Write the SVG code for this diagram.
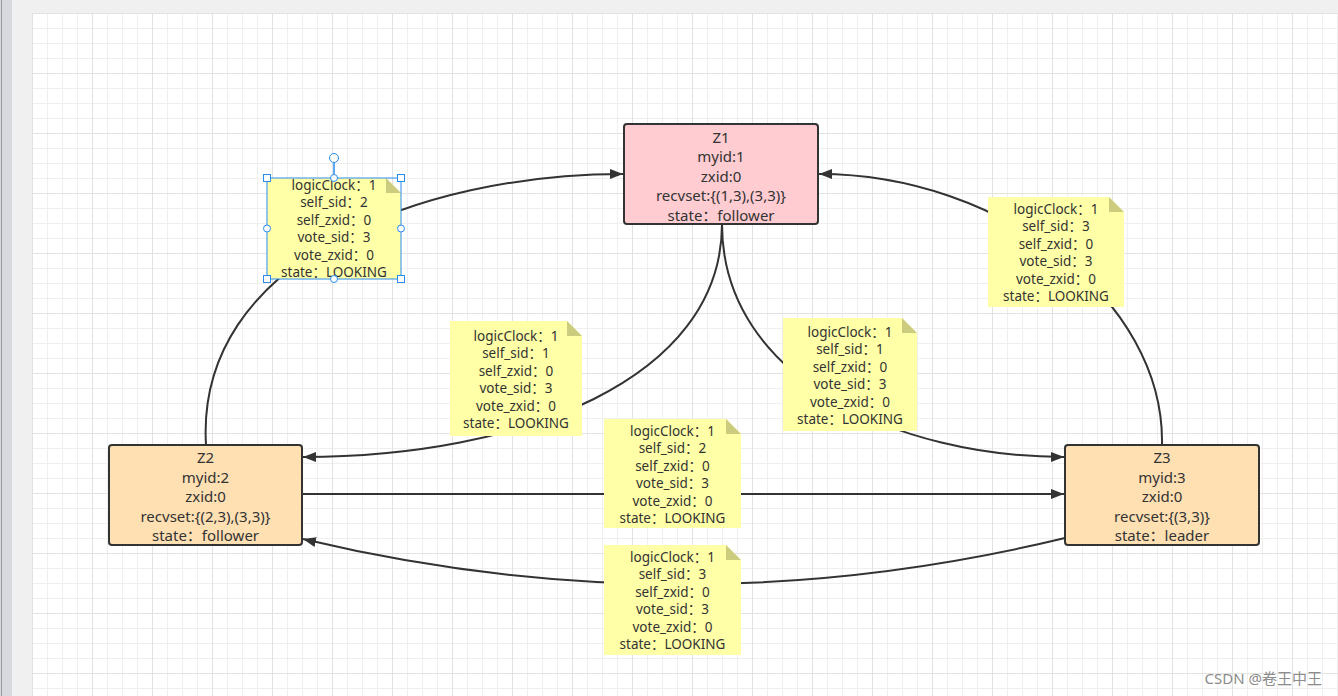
<svg xmlns="http://www.w3.org/2000/svg" width="1338" height="696" viewBox="0 0 1338 696">
<defs>
<pattern id="grid" patternUnits="userSpaceOnUse" x="32" y="13" width="60" height="60">
<path d="M15.5,0V60M30.5,0V60M45.5,0V60M0,15.5H60M0,30.5H60M0,45.5H60" stroke="#efefef" stroke-width="1" fill="none"/>
<path d="M0.5,0V60M0,0.5H60" stroke="#e2e2e2" stroke-width="1" fill="none"/>
</pattern>
<marker id="arr" markerUnits="userSpaceOnUse" markerWidth="14" markerHeight="12" refX="13" refY="6" orient="auto">
<path d="M0,1 L13,6 L0,11 Z" fill="#333"/>
</marker>
<style>
.node rect{stroke:#333;stroke-width:2}
.ntxt{font-family:"Noto Sans","Noto Sans CJK SC",sans-serif;font-size:15px;fill:#333;text-anchor:middle}
.note .body{fill:#ffffa8}
.note .fold{fill:#cccc7f}
.ttxt{font-family:"Noto Sans","Noto Sans CJK SC",sans-serif;font-size:13.5px;fill:#333;text-anchor:middle}
.edge{fill:none;stroke:#333;stroke-width:2}
.sel{fill:#fff;stroke:#2b8cf0;stroke-width:1}
</style>
</defs>
<rect x="0" y="0" width="1338" height="696" fill="#f0f0f0"/>
<rect x="0" y="0" width="12" height="696" fill="#d7d9de"/>
<line x1="1.5" y1="0" x2="1.5" y2="696" stroke="#9a9a9a"/>
<rect x="32" y="13" width="1306" height="683" fill="#fff"/>
<rect x="32" y="13" width="1306" height="683" fill="url(#grid)"/>

<g id="connectors">
<path class="edge" d="M206,445 C195,260 420,174 623,174" marker-end="url(#arr)"/>
<path class="edge" d="M722,224 C722,380 520,457 303,457" marker-end="url(#arr)"/>
<path class="edge" d="M722,224 C722,380 900,457 1064,457" marker-end="url(#arr)"/>
<path class="edge" d="M302,494 L1064,494" marker-end="url(#arr)"/>
<path class="edge" d="M1065,538 Q684,630 303,539" marker-end="url(#arr)"/>
<path class="edge" d="M1162,445 C1165,300 1000,174 819,174" marker-end="url(#arr)"/>
</g>

<g id="Z1" class="node">
<rect x="624" y="124" width="194" height="100" rx="3" fill="#ffccd1"/>
<text class="ntxt"><tspan x="721" y="142.5">Z1</tspan><tspan x="721" y="162">myid:1</tspan><tspan x="721" y="181.5">zxid:0</tspan><tspan x="721" y="201">recvset:{(1,3),(3,3)}</tspan><tspan x="721" y="220.5">state：follower</tspan></text>
</g>
<g id="Z2" class="node">
<rect x="109" y="445" width="193" height="100" rx="3" fill="#ffe0b3"/>
<text class="ntxt"><tspan x="205.5" y="463">Z2</tspan><tspan x="205.5" y="482.5">myid:2</tspan><tspan x="205.5" y="502">zxid:0</tspan><tspan x="205.5" y="521.5">recvset:{(2,3),(3,3)}</tspan><tspan x="205.5" y="541">state：follower</tspan></text>
</g>
<g id="Z3" class="node">
<rect x="1065" y="445" width="194" height="100" rx="3" fill="#ffe0b3"/>
<text class="ntxt"><tspan x="1162" y="463">Z3</tspan><tspan x="1162" y="482.5">myid:3</tspan><tspan x="1162" y="502">zxid:0</tspan><tspan x="1162" y="521.5">recvset:{(3,3)}</tspan><tspan x="1162" y="541">state：leader</tspan></text>
</g>

<g id="note1" class="note">
<path class="body" d="M267,178 H386 L401,193 V279 H267 Z"/>
<path class="fold" d="M386,178 L401,193 H386 Z"/>
<text class="ttxt"><tspan x="334" y="190">logicClock：1</tspan><tspan x="334" y="207.4">self_sid：2</tspan><tspan x="334" y="224.8">self_zxid：0</tspan><tspan x="334" y="242.2">vote_sid：3</tspan><tspan x="334" y="259.6">vote_zxid：0</tspan><tspan x="334" y="277">state：LOOKING</tspan></text>
</g>
<g id="note2" class="note">
<path class="body" d="M450,321 H567 L582,336 V436 H450 Z"/>
<path class="fold" d="M567,321 L582,336 H567 Z"/>
<text class="ttxt"><tspan x="516" y="341">logicClock：1</tspan><tspan x="516" y="358.4">self_sid：1</tspan><tspan x="516" y="375.8">self_zxid：0</tspan><tspan x="516" y="393.2">vote_sid：3</tspan><tspan x="516" y="410.6">vote_zxid：0</tspan><tspan x="516" y="428">state：LOOKING</tspan></text>
</g>
<g id="note3" class="note">
<path class="body" d="M783,318 H902 L917,333 V431 H783 Z"/>
<path class="fold" d="M902,318 L917,333 H902 Z"/>
<text class="ttxt"><tspan x="850" y="337">logicClock：1</tspan><tspan x="850" y="354.4">self_sid：1</tspan><tspan x="850" y="371.8">self_zxid：0</tspan><tspan x="850" y="389.2">vote_sid：3</tspan><tspan x="850" y="406.6">vote_zxid：0</tspan><tspan x="850" y="424">state：LOOKING</tspan></text>
</g>
<g id="note4" class="note">
<path class="body" d="M604,419 H726 L741,434 V528 H604 Z"/>
<path class="fold" d="M726,419 L741,434 H726 Z"/>
<text class="ttxt"><tspan x="672.5" y="436">logicClock：1</tspan><tspan x="672.5" y="453.4">self_sid：2</tspan><tspan x="672.5" y="470.8">self_zxid：0</tspan><tspan x="672.5" y="488.2">vote_sid：3</tspan><tspan x="672.5" y="505.6">vote_zxid：0</tspan><tspan x="672.5" y="523">state：LOOKING</tspan></text>
</g>
<g id="note5" class="note">
<path class="body" d="M604,545 H726 L741,560 V655 H604 Z"/>
<path class="fold" d="M726,545 L741,560 H726 Z"/>
<text class="ttxt"><tspan x="672.5" y="562">logicClock：1</tspan><tspan x="672.5" y="579.4">self_sid：3</tspan><tspan x="672.5" y="596.8">self_zxid：0</tspan><tspan x="672.5" y="614.2">vote_sid：3</tspan><tspan x="672.5" y="631.6">vote_zxid：0</tspan><tspan x="672.5" y="649">state：LOOKING</tspan></text>
</g>
<g id="note6" class="note">
<path class="body" d="M988,197 H1109 L1124,212 V307 H988 Z"/>
<path class="fold" d="M1109,197 L1124,212 H1109 Z"/>
<text class="ttxt"><tspan x="1056" y="214">logicClock：1</tspan><tspan x="1056" y="231.4">self_sid：3</tspan><tspan x="1056" y="248.8">self_zxid：0</tspan><tspan x="1056" y="266.2">vote_sid：3</tspan><tspan x="1056" y="283.6">vote_zxid：0</tspan><tspan x="1056" y="301">state：LOOKING</tspan></text>
</g>

<g id="selection">
<rect x="267" y="178" width="134" height="101" fill="none" stroke="#2b8cf0" stroke-width="1"/>
<line x1="334" y1="163" x2="334" y2="178" stroke="#2b8cf0" stroke-width="1.5"/>
<circle class="sel" cx="334" cy="158" r="4.5"/>
<circle class="sel" cx="334" cy="178" r="3.5"/>
<circle class="sel" cx="334" cy="279" r="3.5"/>
<circle class="sel" cx="267" cy="228.5" r="3.5"/>
<circle class="sel" cx="401" cy="228.5" r="3.5"/>
<rect class="sel" x="263.5" y="174.5" width="7" height="7"/>
<rect class="sel" x="397.5" y="174.5" width="7" height="7"/>
<rect class="sel" x="263.5" y="275.5" width="7" height="7"/>
<rect class="sel" x="397.5" y="275.5" width="7" height="7"/>
</g>

<text x="1322" y="684" font-family="'Noto Sans','Noto Sans CJK SC',sans-serif" font-size="15" fill="#8c8c8c" text-anchor="end">CSDN @卷王中王</text>
</svg>
